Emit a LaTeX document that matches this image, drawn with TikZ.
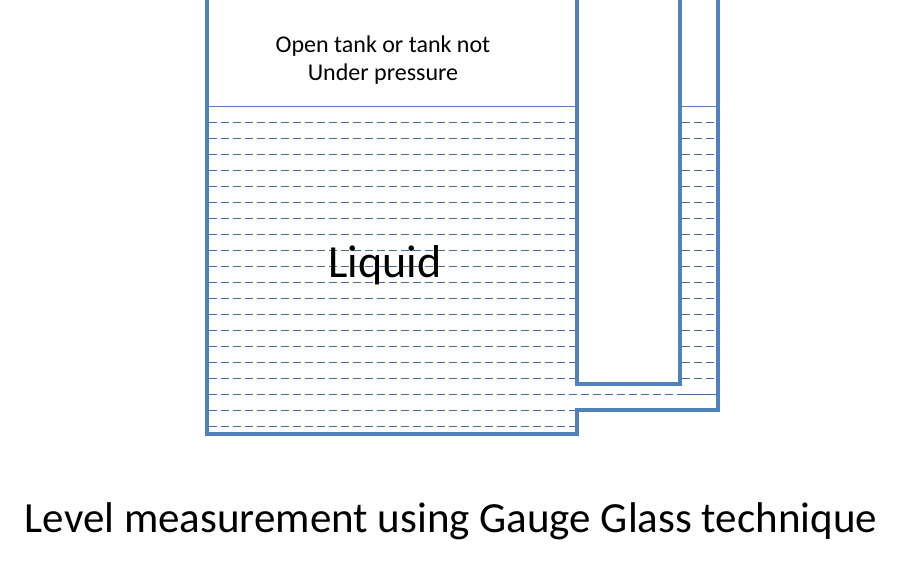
\documentclass[tikz,border=0pt]{standalone}
\usepackage{fontspec}
\setmainfont{Carlito}
\definecolor{wall}{HTML}{4F81BD}
\begin{document}
\begin{tikzpicture}[x=1pt,y=-1pt,
  wallline/.style={draw=wall,line width=3.5pt,line join=miter},
  liq/.style={draw=wall!85!black,line width=0.8pt,dash pattern=on 8pt off 4pt},
  surf/.style={draw=wall,line width=0.8pt}]
\useasboundingbox (0,0) rectangle (912,571);
\foreach \i in {0,...,17}{
  \draw[liq] (209,122+16*\i) -- (575,122+16*\i);
  \draw[liq] (682,122+16*\i) -- (716,122+16*\i);
}
\draw[liq] (209,394) -- (716,394);
\draw[liq] (209,410) -- (575,410);
\draw[liq] (209,426) -- (575,426);
\draw[surf] (209,106) -- (575,106);
\draw[surf] (682,106) -- (716,106);
\draw[wallline] (207,0) -- (207,434) -- (577,434) -- (577,410) -- (718,410) -- (718,0);
\draw[wallline] (577,0) -- (577,384) -- (680,384) -- (680,0);
\node[font=\fontsize{24}{28}\selectfont,align=center] (t) at (383,60) {Open tank or tank not\\Under pressure};
\node[font=\fontsize{46}{50}\selectfont] (l) at (385,265) {Liquid};
\node[font=\fontsize{43}{48}\selectfont] (c) at (451,521) {Level measurement using Gauge Glass technique};
\end{tikzpicture}
\end{document}
